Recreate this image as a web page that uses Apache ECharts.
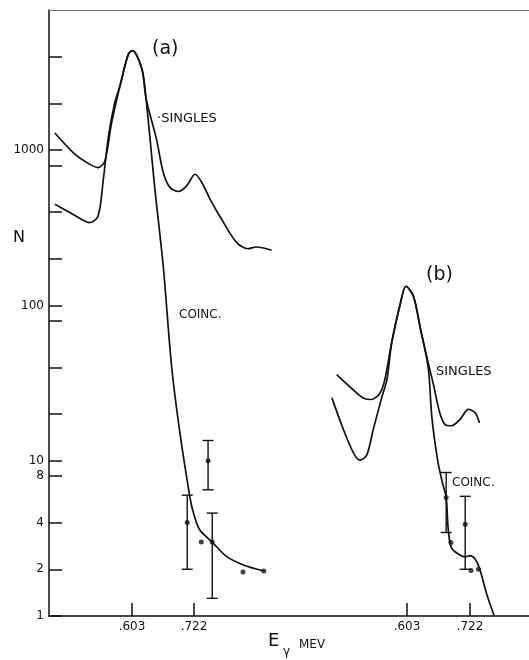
<!DOCTYPE html>
<html><head><meta charset="utf-8">
<script src="https://cdn.jsdelivr.net/npm/echarts@6/dist/echarts.min.js"></script>
<style>html,body{margin:0;padding:0;background:#fff}#c{width:529px;height:660px}</style>
</head><body><div id="c"></div>
<script>
// ---- Panel (a) ----
const singlesA_E = [0.455, 0.490, 0.516, 0.538, 0.551, 0.564, 0.580, 0.596, 0.604, 0.622, 0.630, 0.650, 0.663, 0.676, 0.692, 0.708, 0.724, 0.737, 0.753, 0.775, 0.804, 0.826, 0.841, 0.871];
const singlesA_N = [1290, 966, 833, 773, 853, 1510, 2600, 4160, 4375, 3333, 2150, 1178, 718, 574, 542, 589, 700, 620, 483, 359, 254, 232, 238, 227];
const coincA_E = [0.455, 0.490, 0.522, 0.538, 0.548, 0.558, 0.570, 0.580, 0.596, 0.604, 0.622, 0.630, 0.647, 0.663, 0.679, 0.695, 0.714, 0.721, 0.733, 0.757, 0.785, 0.817, 0.856];
const coincA_N = [448, 386, 342, 377, 650, 1236, 2030, 2600, 4160, 4375, 3333, 2150, 560, 179, 40.6, 15.1, 5.88, 4.6, 3.59, 2.99, 2.41, 2.13, 1.95];
const pointsA_E = [0.709, 0.749, 0.736, 0.757, 0.816, 0.856];
const pointsA_N = [4, 10, 3, 3, 1.92, 1.95];
const errA_E = [0.709, 0.749, 0.757];
const errA_lo = [2, 6.5, 1.3];
const errA_hi = [6, 13.5, 4.6];

// ---- Panel (b) ----
const singlesB_E = [0.470, 0.501, 0.520, 0.536, 0.552, 0.561, 0.574, 0.590, 0.601, 0.615, 0.628, 0.640, 0.653, 0.665, 0.675, 0.687, 0.703, 0.719, 0.732, 0.740];
const singlesB_N = [35.9, 28.7, 25.4, 24.8, 27.3, 33.3, 57.5, 101.5, 133, 115, 71.8, 47.1, 30.9, 20.3, 17.1, 16.8, 18.4, 21.4, 20.3, 17.5];
const coincB_E = [0.461, 0.483, 0.502, 0.514, 0.527, 0.539, 0.555, 0.565, 0.574, 0.590, 0.601, 0.615, 0.628, 0.643, 0.650, 0.661, 0.670, 0.677, 0.681, 0.687, 0.703, 0.712, 0.722, 0.732, 0.740, 0.754, 0.768];
const coincB_N = [25.4, 15.8, 11.2, 10.1, 10.9, 15.8, 25.4, 33.3, 57.5, 101.5, 133, 115, 71.8, 40, 19, 10, 7.2, 5.8, 3.6, 2.75, 2.47, 2.4, 2.45, 2.32, 2.03, 1.37, 1.0];
const pointsB_E = [0.677, 0.686, 0.713, 0.724, 0.738];
const pointsB_N = [5.8, 2.97, 3.9, 1.96, 2.0];
const errB_E = [0.677, 0.713];
const errB_lo = [3.45, 2.0];
const errB_hi = [8.4, 5.9];

// ---- Axes ----
const yTickValues = [1, 2, 4, 8, 10, 20, 40, 80, 100, 200, 400, 800, 1000, 2000, 4000];
const yLabelValues = [1, 2, 4, 8, 10, 100, 1000];
const xTickValues = [0.603, 0.722];
const xTickLabels = ['.603', '.722'];

const zip = (a, b) => a.map((v, i) => [v, b[i]]);
const zipErr = (e, lo, hi) => e.map((v, i) => [v, lo[i], hi[i]]);

const FONT = 'DejaVu Sans';
const INK = '#111';

function errItem(params, api) {
  const x = api.value(0);
  const pHi = api.coord([x, api.value(2)]);
  const pLo = api.coord([x, api.value(1)]);
  const w = 5.5;
  const st = { stroke: INK, lineWidth: 1.4 };
  return { type: 'group', children: [
    { type: 'line', shape: { x1: pHi[0], y1: pHi[1], x2: pLo[0], y2: pLo[1] }, style: st },
    { type: 'line', shape: { x1: pHi[0] - w, y1: pHi[1], x2: pHi[0] + w, y2: pHi[1] }, style: st },
    { type: 'line', shape: { x1: pLo[0] - w, y1: pLo[1], x2: pLo[0] + w, y2: pLo[1] }, style: st }
  ]};
}

function xAxisCfg(min, max, showLine) {
  return {
    type: 'value', min: min, max: max, position: 'bottom',
    axisLine: { show: showLine, onZero: false, lineStyle: { color: INK, width: 1.5 } },
    axisTick: { show: true, inside: true, length: 13, customValues: xTickValues, lineStyle: { color: INK, width: 1.5 } },
    axisLabel: { show: true, customValues: xTickValues, margin: 5, color: INK, fontFamily: FONT, fontSize: 12,
      formatter: v => { const i = xTickValues.findIndex(t => Math.abs(t - v) < 1e-6); return i >= 0 ? xTickLabels[i] : ''; } },
    splitLine: { show: false }
  };
}

const lineStyle = { color: INK, width: 1.7 };
const lineSeries = (idx, e, n) => ({ type: 'line', xAxisIndex: idx, data: zip(e, n), smooth: 0.3, symbol: 'none', lineStyle: lineStyle });
const chart = echarts.init(document.getElementById('c'), null, { renderer: 'canvas' });
chart.setOption({
  animation: false,
  backgroundColor: '#fff',
  grid: { left: 49, right: 0, top: 10, bottom: 44 },
  xAxis: [
    xAxisCfg(0.4437, 1.365, true),
    xAxisCfg(-0.0738, 0.8336, false),
    { type: 'value', position: 'top', min: 0, max: 1,
      axisLine: { show: true, onZero: false, lineStyle: { color: '#777', width: 1 } },
      axisTick: { show: false }, axisLabel: { show: false }, splitLine: { show: false } }
  ],
  yAxis: {
    type: 'log', logBase: 10, min: 1, max: 8000, position: 'left',
    axisLine: { show: true, onZero: false, lineStyle: { color: INK, width: 1.5 } },
    axisTick: { show: true, inside: true, length: 13, customValues: yTickValues, lineStyle: { color: INK, width: 1.5 } },
    axisLabel: { show: true, customValues: yLabelValues, margin: 5, color: INK, fontFamily: FONT, fontSize: 12,
      formatter: v => String(Math.round(v)) },
    splitLine: { show: false }, minorTick: { show: false }
  },
  series: [
    lineSeries(0, singlesA_E, singlesA_N),
    lineSeries(0, coincA_E, coincA_N),
    { type: 'scatter', xAxisIndex: 0, data: zip(pointsA_E, pointsA_N), symbolSize: 5, itemStyle: { color: INK } },
    { type: 'custom', xAxisIndex: 0, data: zipErr(errA_E, errA_lo, errA_hi), encode: { x: 0, y: [1, 2] }, renderItem: errItem },
    lineSeries(1, singlesB_E, singlesB_N),
    lineSeries(1, coincB_E, coincB_N),
    { type: 'scatter', xAxisIndex: 1, data: zip(pointsB_E, pointsB_N), symbolSize: 5, itemStyle: { color: INK } },
    { type: 'custom', xAxisIndex: 1, data: zipErr(errB_E, errB_lo, errB_hi), encode: { x: 0, y: [1, 2] }, renderItem: errItem }
  ],
  graphic: [
    { type: 'text', left: 152, top: 40, style: { text: '(a)', fontFamily: FONT, fontSize: 19, fill: INK } },
    { type: 'text', left: 157, top: 112, style: { text: '·SINGLES', fontFamily: FONT, fontSize: 13, fill: INK } },
    { type: 'text', left: 179, top: 309, style: { text: 'COINC.', fontFamily: FONT, fontSize: 12, fill: INK } },
    { type: 'text', left: 426, top: 266, style: { text: '(b)', fontFamily: FONT, fontSize: 19, fill: INK } },
    { type: 'text', left: 436, top: 365, style: { text: 'SINGLES', fontFamily: FONT, fontSize: 13, fill: INK } },
    { type: 'text', left: 452, top: 477, style: { text: 'COINC.', fontFamily: FONT, fontSize: 12, fill: INK } },
    { type: 'text', left: 13, top: 230, style: { text: 'N', fontFamily: FONT, fontSize: 16, fill: INK } },
    { type: 'text', left: 268, top: 632, style: { text: 'E', fontFamily: FONT, fontSize: 18, fill: INK } },
    { type: 'text', left: 283, top: 646, style: { text: 'γ', fontFamily: FONT, fontSize: 12, fill: INK } },
    { type: 'text', left: 299, top: 639, style: { text: 'MEV', fontFamily: FONT, fontSize: 12, fill: INK } }
  ]
});
</script>
</body></html>
